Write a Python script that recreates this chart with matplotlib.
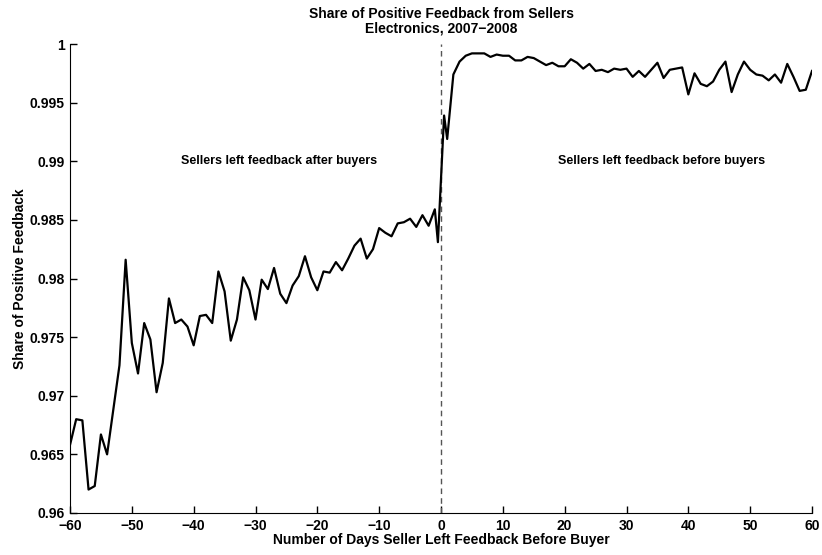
import numpy as np
import matplotlib
matplotlib.use("Agg")
import matplotlib.pyplot as plt

plt.rcParams['font.family'] = ['Liberation Sans', 'DejaVu Sans']
plt.rcParams['font.weight'] = 'bold'
plt.rcParams['axes.labelweight'] = 'bold'
plt.rcParams['axes.titleweight'] = 'bold'
plt.rcParams['font.size'] = 10

# day -0.5 / 0.5 are the two same-day bins either side of the cutoff
days = list(range(-60, 0)) + [-0.5, 0.5] + list(range(1, 61))

share_after = [
    0.9658, 0.9680, 0.9679, 0.9620, 0.9623, 0.9667, 0.9650, 0.9688, 0.9726, 0.9816,
    0.9745, 0.9719, 0.9762, 0.9748, 0.9703, 0.9728, 0.9783, 0.9762, 0.9765, 0.9759,
    0.9743, 0.9768, 0.9769, 0.9762, 0.9806, 0.9789, 0.9747, 0.9765, 0.9801, 0.9790,
    0.9765, 0.9799, 0.9791, 0.9809, 0.9787, 0.9779, 0.9794, 0.9802, 0.9819, 0.9801,
    0.9790, 0.9806, 0.9805, 0.9814, 0.9807, 0.9817, 0.9828, 0.9834, 0.9817, 0.9825,
    0.9843, 0.9839, 0.9836, 0.9847, 0.9848, 0.9851, 0.9844, 0.9854, 0.9845, 0.9859,
]
share_sameday = [0.9831, 0.9939]
share_before = [
    0.9919, 0.9974, 0.9985, 0.9990, 0.9992, 0.9992, 0.9992, 0.9989, 0.9991, 0.9990,
    0.9990, 0.9986, 0.9986, 0.9989, 0.9988, 0.9985, 0.9982, 0.9984, 0.9981, 0.9981,
    0.9987, 0.9984, 0.9979, 0.9983, 0.9977, 0.9978, 0.9976, 0.9979, 0.9978, 0.9979,
    0.9972, 0.9977, 0.9972, 0.9978, 0.9984, 0.9971, 0.9978, 0.9979, 0.9980, 0.9957,
    0.9975, 0.9966, 0.9964, 0.9968, 0.9978, 0.9985, 0.9959, 0.9974, 0.9985, 0.9978,
    0.9974, 0.9973, 0.9969, 0.9974, 0.9967, 0.9983, 0.9972, 0.9960, 0.9961, 0.9977,
]
share = share_after + share_sameday + share_before

x_ticks = np.arange(-60, 61, 10)
y_ticks = np.arange(0.96, 1.0001, 0.005)

fig = plt.figure(figsize=(8.22, 5.55), dpi=100)
ax = fig.add_axes([70 / 822, 1 - 513 / 555, 742 / 822, 469 / 555])

ax.plot([0, 0], [0.96, 1.0], '--', color='#555555', lw=1.0, dashes=(4, 3))
ax.plot(days, share, color='black', lw=1.6)

ax.set_xlim(-60, 60)
ax.set_ylim(0.96, 1.0)
ax.set_xticks(x_ticks)
ax.set_yticks(y_ticks)
ax.set_yticklabels(['%g' % round(v, 3) for v in y_ticks])

ax.spines['top'].set_visible(False)
ax.spines['right'].set_visible(False)
ax.tick_params(direction='in', length=5, width=1, labelsize=10, pad=4)

ax.text(-42, 0.99, 'Sellers left feedback after buyers', va='center', ha='left', fontsize=9)
ax.text(19, 0.99, 'Sellers left feedback before buyers', va='center', ha='left', fontsize=9)

ax.set_title('Share of Positive Feedback from Sellers\nElectronics, 2007\u22122008',
             fontsize=10, pad=8, linespacing=1.05)
ax.set_xlabel('Number of Days Seller Left Feedback Before Buyer', fontsize=10, labelpad=0)
ax.set_ylabel('Share of Positive Feedback', fontsize=10, labelpad=2)

fig.savefig('out.png', dpi=100)
